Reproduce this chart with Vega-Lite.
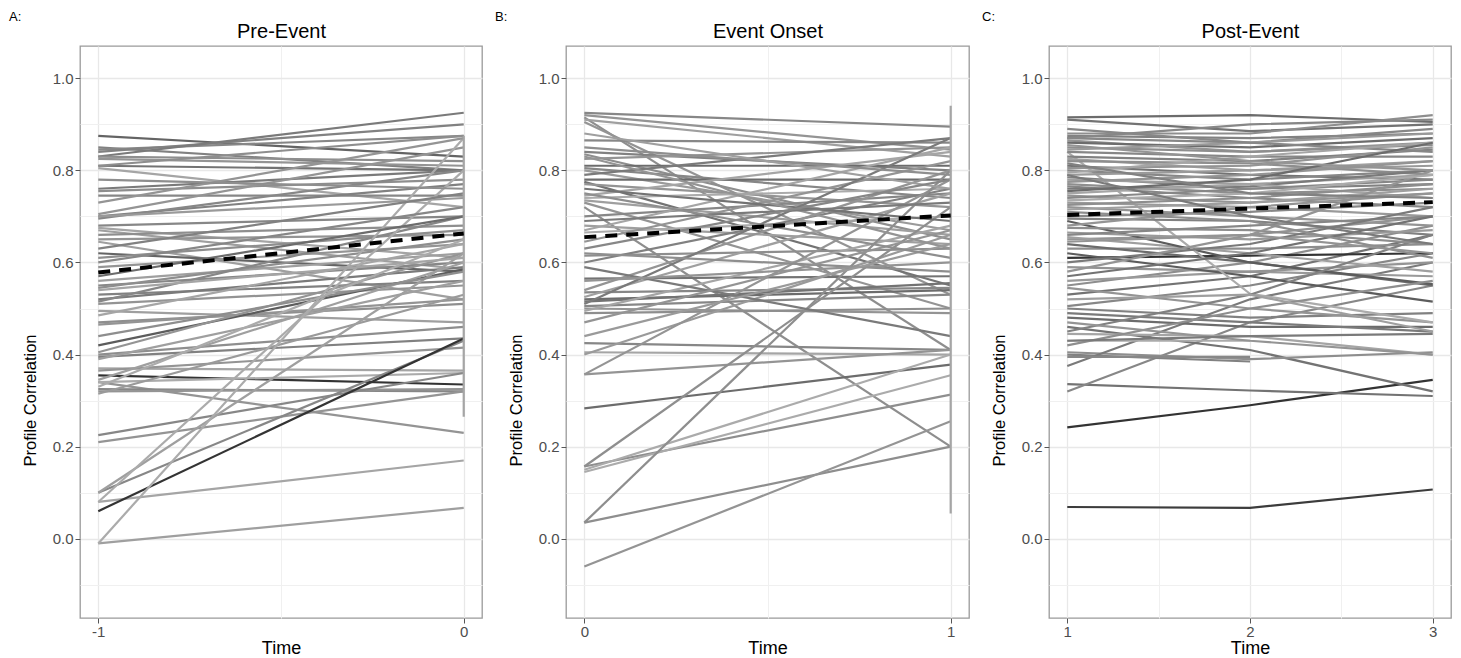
{
  "$schema": "https://vega.github.io/schema/vega-lite/v6.json",
  "padding": {"left": 8, "top": 10, "right": 0, "bottom": 0},
  "spacing": 11,
  "datasets": {
    "A": [
      {"id":1,"t":-1,"v":0.875,"g":0.25},{"id":1,"t":0,"v":0.83,"g":0.25},
      {"id":2,"t":-1,"v":0.85,"g":0.45},{"id":2,"t":0,"v":0.80,"g":0.45},
      {"id":3,"t":-1,"v":0.845,"g":0.5},{"id":3,"t":0,"v":0.875,"g":0.5},
      {"id":4,"t":-1,"v":0.84,"g":0.45},{"id":4,"t":0,"v":0.90,"g":0.45},
      {"id":5,"t":-1,"v":0.83,"g":0.4},{"id":5,"t":0,"v":0.925,"g":0.4},
      {"id":6,"t":-1,"v":0.83,"g":0.55},{"id":6,"t":0,"v":0.82,"g":0.55},
      {"id":7,"t":-1,"v":0.825,"g":0.6},{"id":7,"t":0,"v":0.81,"g":0.6},
      {"id":8,"t":-1,"v":0.81,"g":0.35},{"id":8,"t":0,"v":0.80,"g":0.35},
      {"id":9,"t":-1,"v":0.805,"g":0.75},{"id":9,"t":0,"v":0.72,"g":0.75},
      {"id":10,"t":-1,"v":0.81,"g":0.55},{"id":10,"t":0,"v":0.875,"g":0.55},
      {"id":11,"t":-1,"v":0.76,"g":0.4},{"id":11,"t":0,"v":0.80,"g":0.4},
      {"id":12,"t":-1,"v":0.755,"g":0.55},{"id":12,"t":0,"v":0.78,"g":0.55},
      {"id":13,"t":-1,"v":0.745,"g":0.5},{"id":13,"t":0,"v":0.745,"g":0.5},
      {"id":14,"t":-1,"v":0.705,"g":0.6},{"id":14,"t":0,"v":0.85,"g":0.6},
      {"id":15,"t":-1,"v":0.70,"g":0.45},{"id":15,"t":0,"v":0.77,"g":0.45},
      {"id":16,"t":-1,"v":0.695,"g":0.5},{"id":16,"t":0,"v":0.80,"g":0.5},
      {"id":17,"t":-1,"v":0.70,"g":0.65},{"id":17,"t":0,"v":0.74,"g":0.65},
      {"id":18,"t":-1,"v":0.68,"g":0.5},{"id":18,"t":0,"v":0.70,"g":0.5},
      {"id":19,"t":-1,"v":0.675,"g":0.75},{"id":19,"t":0,"v":0.61,"g":0.75},
      {"id":20,"t":-1,"v":0.67,"g":0.7},{"id":20,"t":0,"v":0.585,"g":0.7},
      {"id":21,"t":-1,"v":0.66,"g":0.55},{"id":21,"t":0,"v":0.68,"g":0.55},
      {"id":22,"t":-1,"v":0.65,"g":0.6},{"id":22,"t":0,"v":0.66,"g":0.6},
      {"id":23,"t":-1,"v":0.645,"g":0.7},{"id":23,"t":0,"v":0.52,"g":0.7},
      {"id":24,"t":-1,"v":0.62,"g":0.25},{"id":24,"t":0,"v":0.58,"g":0.25},
      {"id":25,"t":-1,"v":0.61,"g":0.55},{"id":25,"t":0,"v":0.67,"g":0.55},
      {"id":26,"t":-1,"v":0.59,"g":0.6},{"id":26,"t":0,"v":0.64,"g":0.6},
      {"id":27,"t":-1,"v":0.56,"g":0.7},{"id":27,"t":0,"v":0.62,"g":0.7},
      {"id":28,"t":-1,"v":0.55,"g":0.5},{"id":28,"t":0,"v":0.60,"g":0.5},
      {"id":29,"t":-1,"v":0.545,"g":0.55},{"id":29,"t":0,"v":0.65,"g":0.55},
      {"id":30,"t":-1,"v":0.53,"g":0.45},{"id":30,"t":0,"v":0.56,"g":0.45},
      {"id":31,"t":-1,"v":0.52,"g":0.4},{"id":31,"t":0,"v":0.59,"g":0.4},
      {"id":32,"t":-1,"v":0.515,"g":0.5},{"id":32,"t":0,"v":0.70,"g":0.5},
      {"id":33,"t":-1,"v":0.51,"g":0.6},{"id":33,"t":0,"v":0.55,"g":0.6},
      {"id":34,"t":-1,"v":0.495,"g":0.7},{"id":34,"t":0,"v":0.47,"g":0.7},
      {"id":35,"t":-1,"v":0.485,"g":0.75},{"id":35,"t":0,"v":0.64,"g":0.75},
      {"id":36,"t":-1,"v":0.47,"g":0.55},{"id":36,"t":0,"v":0.51,"g":0.55},
      {"id":37,"t":-1,"v":0.465,"g":0.6},{"id":37,"t":0,"v":0.52,"g":0.6},
      {"id":38,"t":-1,"v":0.42,"g":0.2},{"id":38,"t":0,"v":0.585,"g":0.2},
      {"id":39,"t":-1,"v":0.405,"g":0.6},{"id":39,"t":0,"v":0.62,"g":0.6},
      {"id":40,"t":-1,"v":0.40,"g":0.55},{"id":40,"t":0,"v":0.46,"g":0.55},
      {"id":41,"t":-1,"v":0.395,"g":0.45},{"id":41,"t":0,"v":0.435,"g":0.45},
      {"id":42,"t":-1,"v":0.39,"g":0.7},{"id":42,"t":0,"v":0.56,"g":0.7},
      {"id":43,"t":-1,"v":0.37,"g":0.75},{"id":43,"t":0,"v":0.365,"g":0.75},
      {"id":44,"t":-1,"v":0.365,"g":0.6},{"id":44,"t":0,"v":0.415,"g":0.6},
      {"id":45,"t":-1,"v":0.355,"g":0.02},{"id":45,"t":0,"v":0.335,"g":0.02},
      {"id":46,"t":-1,"v":0.345,"g":0.7},{"id":46,"t":0,"v":0.60,"g":0.7},
      {"id":47,"t":-1,"v":0.34,"g":0.6},{"id":47,"t":0,"v":0.23,"g":0.6},
      {"id":48,"t":-1,"v":0.34,"g":0.8},{"id":48,"t":0,"v":0.36,"g":0.8},
      {"id":49,"t":-1,"v":0.325,"g":0.5},{"id":49,"t":0,"v":0.32,"g":0.5},
      {"id":50,"t":-1,"v":0.32,"g":0.6},{"id":50,"t":0,"v":0.325,"g":0.6},
      {"id":51,"t":-1,"v":0.315,"g":0.65},{"id":51,"t":0,"v":0.53,"g":0.65},
      {"id":52,"t":-1,"v":0.225,"g":0.5},{"id":52,"t":0,"v":0.36,"g":0.5},
      {"id":53,"t":-1,"v":0.21,"g":0.6},{"id":53,"t":0,"v":0.32,"g":0.6},
      {"id":54,"t":-1,"v":0.10,"g":0.5},{"id":54,"t":0,"v":0.43,"g":0.5},
      {"id":55,"t":-1,"v":0.10,"g":0.7},{"id":55,"t":0,"v":0.62,"g":0.7},
      {"id":56,"t":-1,"v":0.08,"g":0.75},{"id":56,"t":0,"v":0.17,"g":0.75},
      {"id":57,"t":-1,"v":0.08,"g":0.8},{"id":57,"t":0,"v":0.80,"g":0.8},
      {"id":58,"t":-1,"v":0.06,"g":0.02},{"id":58,"t":0,"v":0.435,"g":0.02},
      {"id":59,"t":-1,"v":-0.01,"g":0.7},{"id":59,"t":0,"v":0.067,"g":0.7},
      {"id":60,"t":-1,"v":-0.01,"g":0.8},{"id":60,"t":0,"v":0.87,"g":0.8},
      {"id":61,"t":-1,"v":0.73,"g":0.6},{"id":61,"t":0,"v":0.87,"g":0.6},
      {"id":62,"t":-1,"v":0.63,"g":0.45},{"id":62,"t":0,"v":0.75,"g":0.45},
      {"id":63,"t":-1,"v":0.60,"g":0.5},{"id":63,"t":0,"v":0.72,"g":0.5},
      {"id":64,"t":-1,"v":0.57,"g":0.3},{"id":64,"t":0,"v":0.70,"g":0.3},
      {"id":65,"t":-1,"v":0.44,"g":0.55},{"id":65,"t":0,"v":0.58,"g":0.55},
      {"id":66,"t":-1,"v":0.33,"g":0.8},{"id":66,"t":0,"v":0.65,"g":0.8},
      {"id":67,"t":-1,"v":0.54,"g":0.75},{"id":67,"t":0,"v":0.61,"g":0.75},
      {"id":68,"t":-1,"v":0.78,"g":0.55},{"id":68,"t":0,"v":0.76,"g":0.55},
      {"id":99,"t":0,"v":0.265,"g":0.75},{"id":99,"t":0,"v":0.875,"g":0.75}
    ],
    "B": [
      {"id":1,"t":0,"v":0.925,"g":0.5},{"id":1,"t":1,"v":0.895,"g":0.5},
      {"id":2,"t":0,"v":0.92,"g":0.6},{"id":2,"t":1,"v":0.845,"g":0.6},
      {"id":3,"t":0,"v":0.915,"g":0.55},{"id":3,"t":1,"v":0.41,"g":0.55},
      {"id":4,"t":0,"v":0.91,"g":0.7},{"id":4,"t":1,"v":0.83,"g":0.7},
      {"id":5,"t":0,"v":0.905,"g":0.6},{"id":5,"t":1,"v":0.53,"g":0.6},
      {"id":6,"t":0,"v":0.865,"g":0.5},{"id":6,"t":1,"v":0.86,"g":0.5},
      {"id":7,"t":0,"v":0.84,"g":0.45},{"id":7,"t":1,"v":0.80,"g":0.45},
      {"id":8,"t":0,"v":0.835,"g":0.55},{"id":8,"t":1,"v":0.65,"g":0.55},
      {"id":9,"t":0,"v":0.825,"g":0.6},{"id":9,"t":1,"v":0.85,"g":0.6},
      {"id":10,"t":0,"v":0.81,"g":0.3},{"id":10,"t":1,"v":0.81,"g":0.3},
      {"id":11,"t":0,"v":0.805,"g":0.5},{"id":11,"t":1,"v":0.74,"g":0.5},
      {"id":12,"t":0,"v":0.80,"g":0.65},{"id":12,"t":1,"v":0.67,"g":0.65},
      {"id":13,"t":0,"v":0.78,"g":0.3},{"id":13,"t":1,"v":0.78,"g":0.3},
      {"id":14,"t":0,"v":0.775,"g":0.35},{"id":14,"t":1,"v":0.55,"g":0.35},
      {"id":15,"t":0,"v":0.77,"g":0.6},{"id":15,"t":1,"v":0.72,"g":0.6},
      {"id":16,"t":0,"v":0.745,"g":0.75},{"id":16,"t":1,"v":0.84,"g":0.75},
      {"id":17,"t":0,"v":0.74,"g":0.8},{"id":17,"t":1,"v":0.76,"g":0.8},
      {"id":18,"t":0,"v":0.735,"g":0.7},{"id":18,"t":1,"v":0.66,"g":0.7},
      {"id":19,"t":0,"v":0.73,"g":0.6},{"id":19,"t":1,"v":0.50,"g":0.6},
      {"id":20,"t":0,"v":0.72,"g":0.55},{"id":20,"t":1,"v":0.20,"g":0.55},
      {"id":21,"t":0,"v":0.70,"g":0.5},{"id":21,"t":1,"v":0.75,"g":0.5},
      {"id":22,"t":0,"v":0.68,"g":0.7},{"id":22,"t":1,"v":0.64,"g":0.7},
      {"id":23,"t":0,"v":0.67,"g":0.75},{"id":23,"t":1,"v":0.85,"g":0.75},
      {"id":24,"t":0,"v":0.665,"g":0.8},{"id":24,"t":1,"v":0.70,"g":0.8},
      {"id":25,"t":0,"v":0.645,"g":0.6},{"id":25,"t":1,"v":0.82,"g":0.6},
      {"id":26,"t":0,"v":0.615,"g":0.55},{"id":26,"t":1,"v":0.63,"g":0.55},
      {"id":27,"t":0,"v":0.60,"g":0.45},{"id":27,"t":1,"v":0.76,"g":0.45},
      {"id":28,"t":0,"v":0.565,"g":0.35},{"id":28,"t":1,"v":0.57,"g":0.35},
      {"id":29,"t":0,"v":0.54,"g":0.6},{"id":29,"t":1,"v":0.80,"g":0.6},
      {"id":30,"t":0,"v":0.535,"g":0.5},{"id":30,"t":1,"v":0.545,"g":0.5},
      {"id":31,"t":0,"v":0.525,"g":0.7},{"id":31,"t":1,"v":0.75,"g":0.7},
      {"id":32,"t":0,"v":0.52,"g":0.3},{"id":32,"t":1,"v":0.54,"g":0.3},
      {"id":33,"t":0,"v":0.515,"g":0.35},{"id":33,"t":1,"v":0.555,"g":0.35},
      {"id":34,"t":0,"v":0.51,"g":0.4},{"id":34,"t":1,"v":0.87,"g":0.4},
      {"id":35,"t":0,"v":0.505,"g":0.5},{"id":35,"t":1,"v":0.53,"g":0.5},
      {"id":36,"t":0,"v":0.50,"g":0.6},{"id":36,"t":1,"v":0.49,"g":0.6},
      {"id":37,"t":0,"v":0.495,"g":0.75},{"id":37,"t":1,"v":0.68,"g":0.75},
      {"id":38,"t":0,"v":0.49,"g":0.55},{"id":38,"t":1,"v":0.50,"g":0.55},
      {"id":39,"t":0,"v":0.425,"g":0.5},{"id":39,"t":1,"v":0.41,"g":0.5},
      {"id":40,"t":0,"v":0.405,"g":0.75},{"id":40,"t":1,"v":0.40,"g":0.75},
      {"id":41,"t":0,"v":0.40,"g":0.65},{"id":41,"t":1,"v":0.66,"g":0.65},
      {"id":42,"t":0,"v":0.357,"g":0.6},{"id":42,"t":1,"v":0.41,"g":0.6},
      {"id":43,"t":0,"v":0.357,"g":0.6},{"id":43,"t":1,"v":0.78,"g":0.6},
      {"id":44,"t":0,"v":0.283,"g":0.3},{"id":44,"t":1,"v":0.378,"g":0.3},
      {"id":45,"t":0,"v":0.157,"g":0.55},{"id":45,"t":1,"v":0.313,"g":0.55},
      {"id":46,"t":0,"v":0.157,"g":0.55},{"id":46,"t":1,"v":0.72,"g":0.55},
      {"id":47,"t":0,"v":0.145,"g":0.8},{"id":47,"t":1,"v":0.355,"g":0.8},
      {"id":48,"t":0,"v":0.15,"g":0.8},{"id":48,"t":1,"v":0.40,"g":0.8},
      {"id":49,"t":0,"v":0.035,"g":0.55},{"id":49,"t":1,"v":0.20,"g":0.55},
      {"id":50,"t":0,"v":0.035,"g":0.55},{"id":50,"t":1,"v":0.80,"g":0.55},
      {"id":51,"t":0,"v":-0.06,"g":0.6},{"id":51,"t":1,"v":0.255,"g":0.6},
      {"id":52,"t":0,"v":0.59,"g":0.4},{"id":52,"t":1,"v":0.44,"g":0.4},
      {"id":53,"t":0,"v":0.62,"g":0.55},{"id":53,"t":1,"v":0.58,"g":0.55},
      {"id":54,"t":0,"v":0.56,"g":0.6},{"id":54,"t":1,"v":0.60,"g":0.6},
      {"id":55,"t":0,"v":0.76,"g":0.35},{"id":55,"t":1,"v":0.69,"g":0.35},
      {"id":56,"t":0,"v":0.79,"g":0.4},{"id":56,"t":1,"v":0.87,"g":0.4},
      {"id":57,"t":0,"v":0.85,"g":0.55},{"id":57,"t":1,"v":0.79,"g":0.55},
      {"id":58,"t":0,"v":0.83,"g":0.6},{"id":58,"t":1,"v":0.63,"g":0.6},
      {"id":59,"t":0,"v":0.88,"g":0.7},{"id":59,"t":1,"v":0.76,"g":0.7},
      {"id":60,"t":0,"v":0.69,"g":0.4},{"id":60,"t":1,"v":0.73,"g":0.4},
      {"id":61,"t":0,"v":0.47,"g":0.6},{"id":61,"t":1,"v":0.67,"g":0.6},
      {"id":62,"t":0,"v":0.44,"g":0.65},{"id":62,"t":1,"v":0.64,"g":0.65},
      {"id":63,"t":0,"v":0.63,"g":0.5},{"id":63,"t":1,"v":0.78,"g":0.5},
      {"id":64,"t":0,"v":0.75,"g":0.55},{"id":64,"t":1,"v":0.61,"g":0.55},
      {"id":99,"t":1,"v":0.055,"g":0.75},{"id":99,"t":1,"v":0.94,"g":0.75}
    ],
    "C": [
      {"id":1,"t":1,"v":0.069,"g":0.05},{"id":1,"t":2,"v":0.067,"g":0.05},{"id":1,"t":3,"v":0.107,"g":0.05},
      {"id":2,"t":1,"v":0.242,"g":0.02},{"id":2,"t":2,"v":0.29,"g":0.02},{"id":2,"t":3,"v":0.345,"g":0.02},
      {"id":3,"t":1,"v":0.336,"g":0.35},{"id":3,"t":2,"v":0.322,"g":0.35},{"id":3,"t":3,"v":0.31,"g":0.35},
      {"id":4,"t":1,"v":0.32,"g":0.5},{"id":4,"t":2,"v":0.47,"g":0.5},{"id":4,"t":3,"v":0.55,"g":0.5},
      {"id":5,"t":1,"v":0.46,"g":0.35},{"id":5,"t":2,"v":0.41,"g":0.35},{"id":5,"t":3,"v":0.32,"g":0.35},
      {"id":6,"t":1,"v":0.40,"g":0.45},{"id":6,"t":2,"v":0.385,"g":0.45},
      {"id":7,"t":1,"v":0.405,"g":0.55},{"id":7,"t":2,"v":0.39,"g":0.55},{"id":7,"t":3,"v":0.405,"g":0.55},
      {"id":8,"t":1,"v":0.375,"g":0.4},{"id":8,"t":2,"v":0.52,"g":0.4},{"id":8,"t":3,"v":0.60,"g":0.4},
      {"id":9,"t":1,"v":0.43,"g":0.8},{"id":9,"t":2,"v":0.43,"g":0.8},
      {"id":10,"t":1,"v":0.445,"g":0.75},{"id":10,"t":2,"v":0.44,"g":0.75},{"id":10,"t":3,"v":0.40,"g":0.75},
      {"id":11,"t":1,"v":0.395,"g":0.5},{"id":11,"t":2,"v":0.395,"g":0.5},
      {"id":12,"t":1,"v":0.48,"g":0.3},{"id":12,"t":2,"v":0.46,"g":0.3},{"id":12,"t":3,"v":0.46,"g":0.3},
      {"id":13,"t":1,"v":0.49,"g":0.4},{"id":13,"t":2,"v":0.47,"g":0.4},{"id":13,"t":3,"v":0.45,"g":0.4},
      {"id":14,"t":1,"v":0.50,"g":0.45},{"id":14,"t":2,"v":0.48,"g":0.45},{"id":14,"t":3,"v":0.49,"g":0.45},
      {"id":15,"t":1,"v":0.505,"g":0.5},{"id":15,"t":2,"v":0.55,"g":0.5},{"id":15,"t":3,"v":0.62,"g":0.5},
      {"id":16,"t":1,"v":0.53,"g":0.35},{"id":16,"t":2,"v":0.57,"g":0.35},{"id":16,"t":3,"v":0.66,"g":0.35},
      {"id":17,"t":1,"v":0.545,"g":0.6},{"id":17,"t":2,"v":0.50,"g":0.6},{"id":17,"t":3,"v":0.47,"g":0.6},
      {"id":18,"t":1,"v":0.55,"g":0.55},{"id":18,"t":2,"v":0.60,"g":0.55},{"id":18,"t":3,"v":0.68,"g":0.55},
      {"id":19,"t":1,"v":0.56,"g":0.65},{"id":19,"t":2,"v":0.58,"g":0.65},{"id":19,"t":3,"v":0.57,"g":0.65},
      {"id":20,"t":1,"v":0.59,"g":0.6},{"id":20,"t":2,"v":0.58,"g":0.6},{"id":20,"t":3,"v":0.60,"g":0.6},
      {"id":21,"t":1,"v":0.61,"g":0.02},{"id":21,"t":2,"v":0.615,"g":0.02},{"id":21,"t":3,"v":0.62,"g":0.02},
      {"id":22,"t":1,"v":0.62,"g":0.2},{"id":22,"t":2,"v":0.57,"g":0.2},{"id":22,"t":3,"v":0.515,"g":0.2},
      {"id":23,"t":1,"v":0.63,"g":0.55},{"id":23,"t":2,"v":0.63,"g":0.55},{"id":23,"t":3,"v":0.64,"g":0.55},
      {"id":24,"t":1,"v":0.64,"g":0.3},{"id":24,"t":2,"v":0.60,"g":0.3},{"id":24,"t":3,"v":0.55,"g":0.3},
      {"id":25,"t":1,"v":0.65,"g":0.6},{"id":25,"t":2,"v":0.66,"g":0.6},{"id":25,"t":3,"v":0.70,"g":0.6},
      {"id":26,"t":1,"v":0.655,"g":0.7},{"id":26,"t":2,"v":0.62,"g":0.7},{"id":26,"t":3,"v":0.58,"g":0.7},
      {"id":27,"t":1,"v":0.69,"g":0.2},{"id":27,"t":2,"v":0.60,"g":0.2},{"id":27,"t":3,"v":0.553,"g":0.2},
      {"id":28,"t":1,"v":0.84,"g":0.8},{"id":28,"t":2,"v":0.532,"g":0.8},{"id":28,"t":3,"v":0.47,"g":0.8},
      {"id":29,"t":1,"v":0.42,"g":0.55},{"id":29,"t":2,"v":0.50,"g":0.55},{"id":29,"t":3,"v":0.56,"g":0.55},
      {"id":30,"t":1,"v":0.45,"g":0.45},{"id":30,"t":2,"v":0.53,"g":0.45},{"id":30,"t":3,"v":0.66,"g":0.45},
      {"id":31,"t":1,"v":0.47,"g":0.6},{"id":31,"t":2,"v":0.43,"g":0.6},{"id":31,"t":3,"v":0.40,"g":0.6},
      {"id":32,"t":1,"v":0.52,"g":0.7},{"id":32,"t":2,"v":0.53,"g":0.7},{"id":32,"t":3,"v":0.45,"g":0.7},
      {"id":33,"t":1,"v":0.915,"g":0.3},{"id":33,"t":2,"v":0.92,"g":0.3},{"id":33,"t":3,"v":0.905,"g":0.3},
      {"id":34,"t":1,"v":0.91,"g":0.35},{"id":34,"t":2,"v":0.885,"g":0.35},{"id":34,"t":3,"v":0.90,"g":0.35},
      {"id":35,"t":1,"v":0.88,"g":0.55},{"id":35,"t":2,"v":0.88,"g":0.55},{"id":35,"t":3,"v":0.92,"g":0.55},
      {"id":36,"t":1,"v":0.875,"g":0.45},{"id":36,"t":2,"v":0.87,"g":0.45},{"id":36,"t":3,"v":0.88,"g":0.45},
      {"id":37,"t":1,"v":0.87,"g":0.5},{"id":37,"t":2,"v":0.86,"g":0.5},{"id":37,"t":3,"v":0.89,"g":0.5},
      {"id":38,"t":1,"v":0.865,"g":0.6},{"id":38,"t":2,"v":0.84,"g":0.6},{"id":38,"t":3,"v":0.86,"g":0.6},
      {"id":39,"t":1,"v":0.86,"g":0.3},{"id":39,"t":2,"v":0.85,"g":0.3},{"id":39,"t":3,"v":0.87,"g":0.3},
      {"id":40,"t":1,"v":0.85,"g":0.55},{"id":40,"t":2,"v":0.84,"g":0.55},{"id":40,"t":3,"v":0.855,"g":0.55},
      {"id":41,"t":1,"v":0.845,"g":0.65},{"id":41,"t":2,"v":0.86,"g":0.65},{"id":41,"t":3,"v":0.88,"g":0.65},
      {"id":42,"t":1,"v":0.84,"g":0.5},{"id":42,"t":2,"v":0.83,"g":0.5},{"id":42,"t":3,"v":0.83,"g":0.5},
      {"id":43,"t":1,"v":0.83,"g":0.45},{"id":43,"t":2,"v":0.82,"g":0.45},{"id":43,"t":3,"v":0.845,"g":0.45},
      {"id":44,"t":1,"v":0.825,"g":0.7},{"id":44,"t":2,"v":0.80,"g":0.7},{"id":44,"t":3,"v":0.82,"g":0.7},
      {"id":45,"t":1,"v":0.82,"g":0.55},{"id":45,"t":2,"v":0.815,"g":0.55},{"id":45,"t":3,"v":0.79,"g":0.55},
      {"id":46,"t":1,"v":0.81,"g":0.35},{"id":46,"t":2,"v":0.79,"g":0.35},{"id":46,"t":3,"v":0.78,"g":0.35},
      {"id":47,"t":1,"v":0.805,"g":0.6},{"id":47,"t":2,"v":0.81,"g":0.6},{"id":47,"t":3,"v":0.85,"g":0.6},
      {"id":48,"t":1,"v":0.80,"g":0.5},{"id":48,"t":2,"v":0.78,"g":0.5},{"id":48,"t":3,"v":0.80,"g":0.5},
      {"id":49,"t":1,"v":0.79,"g":0.65},{"id":49,"t":2,"v":0.80,"g":0.65},{"id":49,"t":3,"v":0.81,"g":0.65},
      {"id":50,"t":1,"v":0.785,"g":0.45},{"id":50,"t":2,"v":0.76,"g":0.45},{"id":50,"t":3,"v":0.77,"g":0.45},
      {"id":51,"t":1,"v":0.78,"g":0.7},{"id":51,"t":2,"v":0.77,"g":0.7},{"id":51,"t":3,"v":0.79,"g":0.7},
      {"id":52,"t":1,"v":0.775,"g":0.6},{"id":52,"t":2,"v":0.79,"g":0.6},{"id":52,"t":3,"v":0.82,"g":0.6},
      {"id":53,"t":1,"v":0.77,"g":0.55},{"id":53,"t":2,"v":0.75,"g":0.55},{"id":53,"t":3,"v":0.76,"g":0.55},
      {"id":54,"t":1,"v":0.765,"g":0.5},{"id":54,"t":2,"v":0.74,"g":0.5},{"id":54,"t":3,"v":0.72,"g":0.5},
      {"id":55,"t":1,"v":0.76,"g":0.4},{"id":55,"t":2,"v":0.765,"g":0.4},{"id":55,"t":3,"v":0.80,"g":0.4},
      {"id":56,"t":1,"v":0.75,"g":0.75},{"id":56,"t":2,"v":0.77,"g":0.75},{"id":56,"t":3,"v":0.74,"g":0.75},
      {"id":57,"t":1,"v":0.745,"g":0.6},{"id":57,"t":2,"v":0.73,"g":0.6},{"id":57,"t":3,"v":0.75,"g":0.6},
      {"id":58,"t":1,"v":0.74,"g":0.5},{"id":58,"t":2,"v":0.76,"g":0.5},{"id":58,"t":3,"v":0.78,"g":0.5},
      {"id":59,"t":1,"v":0.73,"g":0.65},{"id":59,"t":2,"v":0.72,"g":0.65},{"id":59,"t":3,"v":0.70,"g":0.65},
      {"id":60,"t":1,"v":0.725,"g":0.55},{"id":60,"t":2,"v":0.74,"g":0.55},{"id":60,"t":3,"v":0.77,"g":0.55},
      {"id":61,"t":1,"v":0.72,"g":0.6},{"id":61,"t":2,"v":0.70,"g":0.6},{"id":61,"t":3,"v":0.68,"g":0.6},
      {"id":62,"t":1,"v":0.715,"g":0.7},{"id":62,"t":2,"v":0.73,"g":0.7},{"id":62,"t":3,"v":0.76,"g":0.7},
      {"id":63,"t":1,"v":0.70,"g":0.5},{"id":63,"t":2,"v":0.71,"g":0.5},{"id":63,"t":3,"v":0.73,"g":0.5},
      {"id":64,"t":1,"v":0.695,"g":0.45},{"id":64,"t":2,"v":0.69,"g":0.45},{"id":64,"t":3,"v":0.66,"g":0.45},
      {"id":65,"t":1,"v":0.68,"g":0.6},{"id":65,"t":2,"v":0.72,"g":0.6},{"id":65,"t":3,"v":0.75,"g":0.6},
      {"id":66,"t":1,"v":0.675,"g":0.55},{"id":66,"t":2,"v":0.67,"g":0.55},{"id":66,"t":3,"v":0.64,"g":0.55},
      {"id":67,"t":1,"v":0.665,"g":0.65},{"id":67,"t":2,"v":0.65,"g":0.65},{"id":67,"t":3,"v":0.67,"g":0.65},
      {"id":68,"t":1,"v":0.66,"g":0.5},{"id":68,"t":2,"v":0.68,"g":0.5},{"id":68,"t":3,"v":0.70,"g":0.5},
      {"id":69,"t":1,"v":0.60,"g":0.4},{"id":69,"t":2,"v":0.64,"g":0.4},{"id":69,"t":3,"v":0.72,"g":0.4},
      {"id":70,"t":1,"v":0.58,"g":0.6},{"id":70,"t":2,"v":0.66,"g":0.6},{"id":70,"t":3,"v":0.80,"g":0.6},
      {"id":71,"t":1,"v":0.57,"g":0.35},{"id":71,"t":2,"v":0.62,"g":0.35},{"id":71,"t":3,"v":0.70,"g":0.35},
      {"id":72,"t":1,"v":0.89,"g":0.5},{"id":72,"t":2,"v":0.86,"g":0.5},{"id":72,"t":3,"v":0.84,"g":0.5},
      {"id":73,"t":1,"v":0.795,"g":0.75},{"id":73,"t":2,"v":0.83,"g":0.75},{"id":73,"t":3,"v":0.86,"g":0.75},
      {"id":74,"t":1,"v":0.755,"g":0.3},{"id":74,"t":2,"v":0.78,"g":0.3},{"id":74,"t":3,"v":0.86,"g":0.3},
      {"id":75,"t":1,"v":0.735,"g":0.8},{"id":75,"t":2,"v":0.75,"g":0.8},{"id":75,"t":3,"v":0.79,"g":0.8},
      {"id":76,"t":1,"v":0.71,"g":0.55},{"id":76,"t":2,"v":0.69,"g":0.55},{"id":76,"t":3,"v":0.61,"g":0.55},
      {"id":77,"t":1,"v":0.645,"g":0.6},{"id":77,"t":2,"v":0.66,"g":0.6},{"id":77,"t":3,"v":0.62,"g":0.6},
      {"id":78,"t":1,"v":0.815,"g":0.45},{"id":78,"t":2,"v":0.75,"g":0.45},{"id":78,"t":3,"v":0.74,"g":0.45},
      {"id":79,"t":1,"v":0.855,"g":0.6},{"id":79,"t":2,"v":0.82,"g":0.6},{"id":79,"t":3,"v":0.80,"g":0.6},
      {"id":80,"t":1,"v":0.87,"g":0.5},{"id":80,"t":2,"v":0.90,"g":0.5},{"id":80,"t":3,"v":0.91,"g":0.5},
      {"id":81,"t":1,"v":0.79,"g":0.4},{"id":81,"t":2,"v":0.70,"g":0.4},{"id":81,"t":3,"v":0.64,"g":0.4},
      {"id":82,"t":1,"v":0.43,"g":0.4},{"id":82,"t":2,"v":0.44,"g":0.4},{"id":82,"t":3,"v":0.445,"g":0.4}
    ],
    "M": [
      {"p":"A","t":-1,"v":0.578},{"p":"A","t":0,"v":0.663},
      {"p":"B","t":0,"v":0.655},{"p":"B","t":1,"v":0.702},
      {"p":"C","t":1,"v":0.703},{"p":"C","t":2,"v":0.717},{"p":"C","t":3,"v":0.731}
    ]
  },
  "hconcat": [
    {
      "width": 402, "height": 572,
      "title": {"text": "A:", "anchor": "start", "frame": "group", "dx": -71, "offset": -3},
      "layer": [
        {
          "data": {"name": "A"},
          "mark": {"type": "line", "strokeWidth": 2.2},
          "encoding": {
            "x": {"field": "t", "type": "quantitative", "scale": {"domain": [-1.05, 0.05], "nice": false, "zero": false},
                  "axis": {"values": [-1, 0], "labelExpr": "'' + datum.value", "title": "Time", "titlePadding": 0, "labelPadding": 1}},
            "y": {"field": "v", "type": "quantitative", "scale": {"domain": [-0.172, 1.07], "nice": false, "zero": false},
                  "axis": {"values": [0, 0.2, 0.4, 0.6, 0.8, 1.0], "format": ".1f", "title": "Profile Correlation", "titleFontSize": 16.5, "titleY": 354, "titlePadding": 14}},
            "detail": {"field": "id"},
            "color": {"field": "g", "type": "quantitative", "scale": {"type": "pow", "exponent": 0.6, "domain": [0, 1], "range": ["#262626", "#c0c0c0"]}, "legend": null}
          }
        },
        {
          "data": {"name": "M"},
          "transform": [{"filter": "datum.p == 'A'"}],
          "mark": {"type": "line", "color": "black", "strokeWidth": 4, "strokeDash": [12, 9]},
          "encoding": {
            "x": {"field": "t", "type": "quantitative",
                  "axis": {"orient": "top", "values": [-0.5], "labels": false, "ticks": false, "grid": true, "gridColor": "#f0f0f0", "gridWidth": 1, "title": "Pre-Event", "titleFontSize": 20, "titlePadding": 5, "minExtent": 0, "maxExtent": 0}},
            "y": {"field": "v", "type": "quantitative",
                  "axis": {"orient": "right", "values": [-0.1, 0.1, 0.3, 0.5, 0.7, 0.9], "labels": false, "ticks": false, "grid": true, "gridColor": "#f0f0f0", "gridWidth": 1, "title": null, "minExtent": 0, "maxExtent": 0}}
          }
        }
      ],
      "resolve": {"axis": {"x": "independent", "y": "independent"}}
    },
    {
      "width": 403, "height": 572,
      "title": {"text": "B:", "anchor": "start", "frame": "group", "dx": -71, "offset": -3},
      "layer": [
        {
          "data": {"name": "B"},
          "mark": {"type": "line", "strokeWidth": 2.2},
          "encoding": {
            "x": {"field": "t", "type": "quantitative", "scale": {"domain": [-0.05, 1.05], "nice": false, "zero": false},
                  "axis": {"values": [0, 1], "labelExpr": "'' + datum.value", "title": "Time", "titlePadding": 0, "labelPadding": 1}},
            "y": {"field": "v", "type": "quantitative", "scale": {"domain": [-0.172, 1.07], "nice": false, "zero": false},
                  "axis": {"values": [0, 0.2, 0.4, 0.6, 0.8, 1.0], "format": ".1f", "title": "Profile Correlation", "titleFontSize": 16.5, "titleY": 354, "titlePadding": 14}},
            "detail": {"field": "id"},
            "color": {"field": "g", "type": "quantitative", "scale": {"type": "pow", "exponent": 0.6, "domain": [0, 1], "range": ["#262626", "#c0c0c0"]}, "legend": null}
          }
        },
        {
          "data": {"name": "M"},
          "transform": [{"filter": "datum.p == 'B'"}],
          "mark": {"type": "line", "color": "black", "strokeWidth": 4, "strokeDash": [12, 9]},
          "encoding": {
            "x": {"field": "t", "type": "quantitative",
                  "axis": {"orient": "top", "values": [0.5], "labels": false, "ticks": false, "grid": true, "gridColor": "#f0f0f0", "gridWidth": 1, "title": "Event Onset", "titleFontSize": 20, "titlePadding": 5, "minExtent": 0, "maxExtent": 0}},
            "y": {"field": "v", "type": "quantitative",
                  "axis": {"orient": "right", "values": [-0.1, 0.1, 0.3, 0.5, 0.7, 0.9], "labels": false, "ticks": false, "grid": true, "gridColor": "#f0f0f0", "gridWidth": 1, "title": null, "minExtent": 0, "maxExtent": 0}}
          }
        }
      ],
      "resolve": {"axis": {"x": "independent", "y": "independent"}}
    },
    {
      "width": 402, "height": 572,
      "title": {"text": "C:", "anchor": "start", "frame": "group", "dx": -67, "offset": -3},
      "layer": [
        {
          "data": {"name": "C"},
          "mark": {"type": "line", "strokeWidth": 2.2},
          "encoding": {
            "x": {"field": "t", "type": "quantitative", "scale": {"domain": [0.9, 3.1], "nice": false, "zero": false},
                  "axis": {"values": [1, 2, 3], "labelExpr": "'' + datum.value", "title": "Time", "titlePadding": 0, "labelPadding": 1}},
            "y": {"field": "v", "type": "quantitative", "scale": {"domain": [-0.172, 1.07], "nice": false, "zero": false},
                  "axis": {"values": [0, 0.2, 0.4, 0.6, 0.8, 1.0], "format": ".1f", "title": "Profile Correlation", "titleFontSize": 16.5, "titleY": 354, "titlePadding": 14}},
            "detail": {"field": "id"},
            "color": {"field": "g", "type": "quantitative", "scale": {"type": "pow", "exponent": 0.6, "domain": [0, 1], "range": ["#262626", "#c0c0c0"]}, "legend": null}
          }
        },
        {
          "data": {"name": "M"},
          "transform": [{"filter": "datum.p == 'C'"}],
          "mark": {"type": "line", "color": "black", "strokeWidth": 4, "strokeDash": [12, 9]},
          "encoding": {
            "x": {"field": "t", "type": "quantitative",
                  "axis": {"orient": "top", "values": [1.5, 2.5], "labels": false, "ticks": false, "grid": true, "gridColor": "#f0f0f0", "gridWidth": 1, "title": "Post-Event", "titleFontSize": 20, "titlePadding": 5, "minExtent": 0, "maxExtent": 0}},
            "y": {"field": "v", "type": "quantitative",
                  "axis": {"orient": "right", "values": [-0.1, 0.1, 0.3, 0.5, 0.7, 0.9], "labels": false, "ticks": false, "grid": true, "gridColor": "#f0f0f0", "gridWidth": 1, "title": null, "minExtent": 0, "maxExtent": 0}}
          }
        }
      ],
      "resolve": {"axis": {"x": "independent", "y": "independent"}}
    }
  ],
  "config": {
    "font": "Liberation Sans",
    "view": {"stroke": "#9a9a9a", "strokeWidth": 1.3},
    "axis": {
      "labelFont": "Liberation Sans", "labelFontSize": 15, "labelColor": "#4d4d4d",
      "titleFont": "Liberation Sans", "titleFontSize": 18, "titleFontWeight": "normal", "titleColor": "#000000",
      "tickColor": "#555555", "tickSize": 5, "labelPadding": 2, "domain": false,
      "gridColor": "#e8e8e8", "gridWidth": 1.3
    },
    "title": {"font": "Liberation Sans", "fontSize": 13, "fontWeight": "normal", "color": "#000000"}
  }
}
